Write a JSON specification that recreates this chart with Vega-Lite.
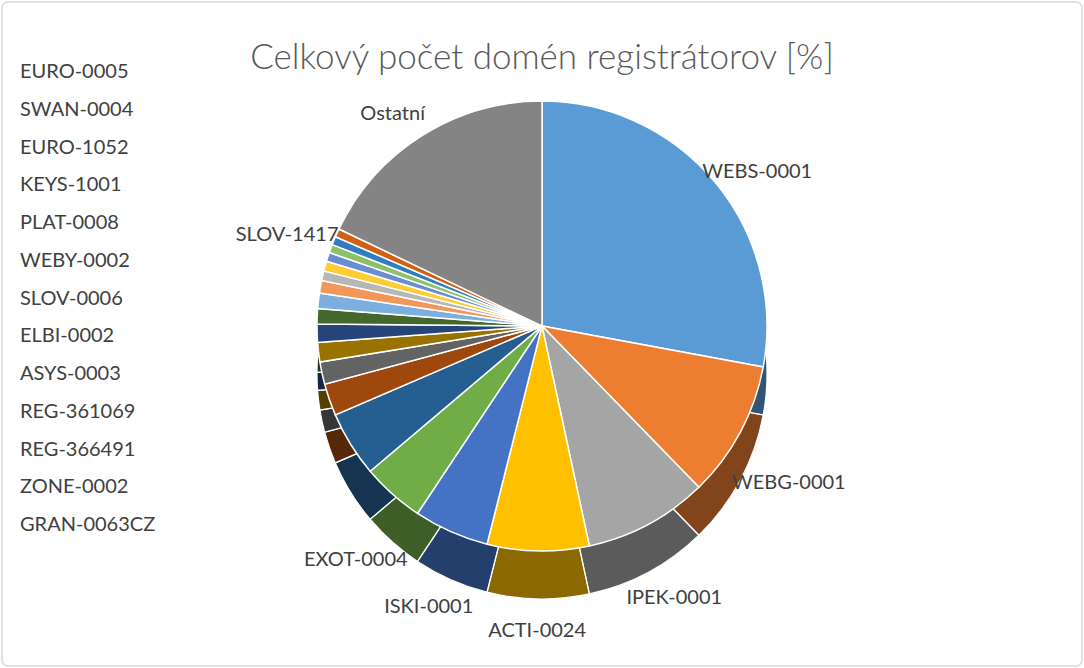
{
  "$schema": "https://vega.github.io/schema/vega-lite/v6.json",
  "width": 1084,
  "height": 668,
  "autosize": {"type": "fit", "contains": "padding"},
  "padding": 2,
  "background": "white",
  "title": {
    "text": "Celkový počet domén registrátorov [%]",
    "font": "Lato",
    "fontSize": 35,
    "fontWeight": 300,
    "color": "#595959",
    "anchor": "middle",
    "offset": -74
  },
  "config": {"view": {"stroke": "#d9d9d9", "strokeWidth": 1.5, "cornerRadius": 6}},
  "data": {
    "values": [
      {"i": 1, "name": "WEBS-0001", "value": 27.9},
      {"i": 2, "name": "WEBG-0001", "value": 9.8},
      {"i": 3, "name": "IPEK-0001", "value": 8.9},
      {"i": 4, "name": "ACTI-0024", "value": 7.3},
      {"i": 5, "name": "ISKI-0001", "value": 5.4},
      {"i": 6, "name": "EXOT-0004", "value": 4.5},
      {"i": 7, "name": "GRAN-0063CZ", "value": 4.7},
      {"i": 8, "name": "ZONE-0002", "value": 2.3},
      {"i": 9, "name": "REG-366491", "value": 1.6},
      {"i": 10, "name": "REG-361069", "value": 1.4},
      {"i": 11, "name": "ASYS-0003", "value": 1.3},
      {"i": 12, "name": "ELBI-0002", "value": 1.1},
      {"i": 13, "name": "SLOV-0006", "value": 1.1},
      {"i": 14, "name": "WEBY-0002", "value": 0.9},
      {"i": 15, "name": "PLAT-0008", "value": 0.7},
      {"i": 16, "name": "KEYS-1001", "value": 0.7},
      {"i": 17, "name": "EURO-1052", "value": 0.65},
      {"i": 18, "name": "SWAN-0004", "value": 0.6},
      {"i": 19, "name": "EURO-0005", "value": 0.6},
      {"i": 20, "name": "SLOV-1417", "value": 0.6},
      {"i": 21, "name": "Ostatní", "value": 17.9}
    ]
  },
  "layer": [
    {
      "mark": {"type": "arc", "outerRadius": 225, "yOffset": 40, "fill": "#000000"},
      "encoding": {
        "theta": {"field": "value", "type": "quantitative", "stack": true},
        "order": {"field": "i", "type": "quantitative"}
      }
    },
    {
      "mark": {"type": "arc", "outerRadius": 225, "yOffset": 40, "fillOpacity": 0.55, "stroke": "#ffffff", "strokeWidth": 1.2},
      "encoding": {
        "theta": {"field": "value", "type": "quantitative", "stack": true},
        "order": {"field": "i", "type": "quantitative"},
        "color": {
          "field": "name",
          "type": "nominal",
          "legend": null,
          "scale": {
            "domain": ["WEBS-0001", "WEBG-0001", "IPEK-0001", "ACTI-0024", "ISKI-0001", "EXOT-0004", "GRAN-0063CZ", "ZONE-0002", "REG-366491", "REG-361069", "ASYS-0003", "ELBI-0002", "SLOV-0006", "WEBY-0002", "PLAT-0008", "KEYS-1001", "EURO-1052", "SWAN-0004", "EURO-0005", "SLOV-1417", "Ostatní"],
            "range": ["#5B9BD5", "#ED7D31", "#A5A5A5", "#FFC000", "#4472C4", "#70AD47", "#255E91", "#9E480E", "#636363", "#997300", "#264478", "#43682B", "#7CAFDD", "#F1975A", "#B7B7B7", "#FFCD33", "#698ED0", "#8CC168", "#327DC2", "#D26012", "#848484"]
          }
        }
      }
    },
    {
      "mark": {"type": "arc", "outerRadius": 225, "yOffset": -8, "stroke": "#ffffff", "strokeWidth": 1.5},
      "encoding": {
        "theta": {"field": "value", "type": "quantitative", "stack": true},
        "order": {"field": "i", "type": "quantitative"},
        "color": {"field": "name", "type": "nominal", "legend": null}
      }
    },
    {
      "mark": {"type": "text", "font": "Lato", "fontSize": 20, "color": "#404040", "yOffset": 17},
      "encoding": {
        "theta": {"field": "value", "type": "quantitative", "stack": true},
        "order": {"field": "i", "type": "quantitative"},
        "radius": {"value": 280},
        "text": {"condition": {"test": "datum.i <= 6 || datum.i >= 20", "field": "name"}, "value": ""}
      }
    },
    {
      "transform": [{"filter": "datum.i >= 7 && datum.i <= 19"}],
      "mark": {"type": "text", "font": "Lato", "fontSize": 20, "color": "#404040", "align": "left"},
      "encoding": {
        "x": {"value": 18},
        "y": {
          "field": "name",
          "type": "nominal",
          "sort": {"field": "i", "op": "min", "order": "descending"},
          "scale": {"type": "point", "range": [70, 523], "padding": 0},
          "axis": null
        },
        "text": {"field": "name"}
      }
    }
  ]
}
